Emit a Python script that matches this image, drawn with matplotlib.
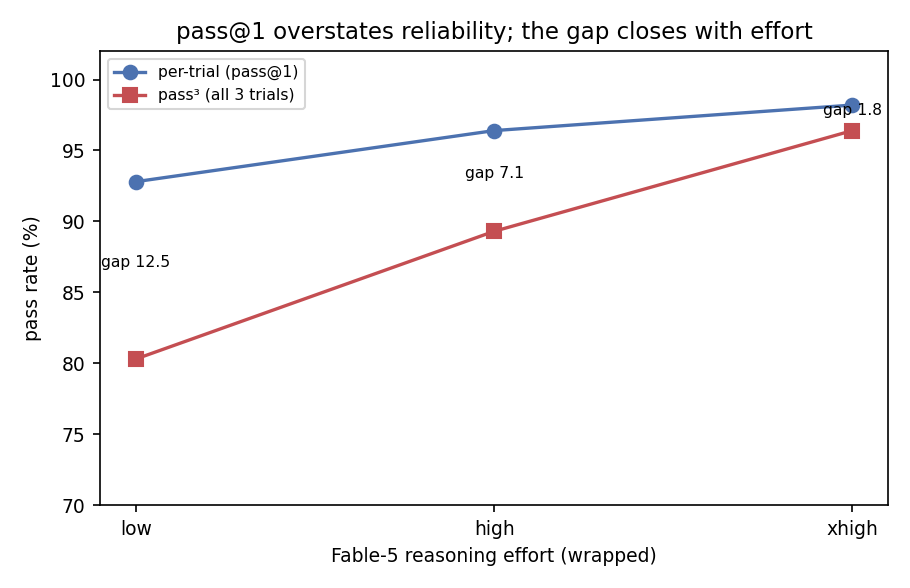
import matplotlib.pyplot as plt

efforts = ["low", "high", "xhigh"]
per_trial = [92.8, 96.4, 98.2]
pass3 = [80.3, 89.3, 96.4]

plt.rcParams["font.size"] = 9

fig, ax = plt.subplots(figsize=(910 / 150, 588 / 150), dpi=150)

x = list(range(len(efforts)))
ax.plot(x, per_trial, marker="o", color="#4C72B0", linewidth=1.6, markersize=6.5,
        label="per-trial (pass@1)")
ax.plot(x, pass3, marker="s", color="#C44E52", linewidth=1.6, markersize=6.5,
        label="pass³ (all 3 trials)")

# gap labels sit just above the midpoint between the two series
for xi, a, b in zip(x, per_trial, pass3):
    ax.text(xi, (a + b) / 2, f"gap {a - b:.1f}", ha="center", va="bottom", fontsize="small")

ax.set_xticks(x)
ax.set_xticklabels(efforts)
ax.set_ylim(70, 102)
ax.set_xlabel("Fable-5 reasoning effort (wrapped)")
ax.set_ylabel("pass rate (%)")
ax.set_title("pass@1 overstates reliability; the gap closes with effort", fontsize=11)
ax.legend(loc="upper left", fontsize="small")

plt.subplots_adjust(left=0.11, right=0.976, top=0.913, bottom=0.141)
plt.savefig("out.png", dpi=150)
